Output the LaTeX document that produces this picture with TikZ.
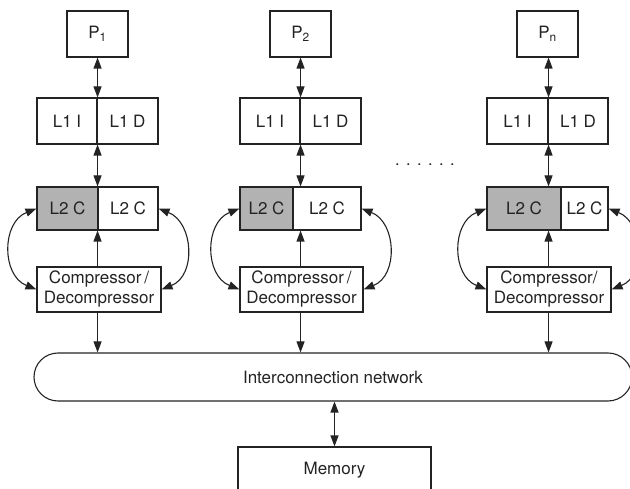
\documentclass[tikz,border=0pt]{standalone}
\usepackage{fontspec}
\setmainfont{TeX Gyre Heros}
\usetikzlibrary{arrows.meta}
\definecolor{lgray}{RGB}{178,178,178}
\definecolor{ink}{RGB}{35,35,35}
\begin{document}
\begin{tikzpicture}[x=1pt,y=-1pt,
  box/.style={draw=ink, line width=1.1pt, inner sep=0pt, minimum height=46pt,
    font=\fontsize{17}{20}\selectfont, text=ink, align=center},
  lbox/.style={box, minimum height=43pt},
  gbox/.style={lbox, fill=lgray},
  comp/.style={box, minimum height=45pt},
  net/.style={box, minimum height=48pt, minimum width=598pt, rounded corners=24pt},
  tipd/.tip={Triangle[length=11pt,width=8pt]},
  dbl/.style={draw=ink, line width=1.1pt, tipd-tipd},
  one/.style={draw=ink, line width=1.1pt, -tipd}]
\useasboundingbox (0,0) rectangle (630,489);
\clip (0,0) rectangle (630,489);

% column 1
\node[box, minimum width=61pt] (P1) at (97.5,34) {P\textsubscript{1}};
\node[box, minimum width=60pt] (L1I1) at (67,121) {L1 I};
\node[box, minimum width=61pt] (L1D1) at (127.5,121) {L1 D};
\node[gbox, minimum width=61pt] (L2G1) at (67.5,208.5) {L2 C};
\node[lbox, minimum width=60pt] (L2W1) at (128,208.5) {L2 C};
\node[comp, minimum width=124pt] (C1) at (99,289.5) {Compressor\,/\\Decompressor};

% column 2
\node[box, minimum width=61pt] (P2) at (300.5,34) {P\textsubscript{2}};
\node[box, minimum width=60pt] (L1I2) at (270,121) {L1 I};
\node[box, minimum width=61pt] (L1D2) at (330.5,121) {L1 D};
\node[gbox, minimum width=53pt] (L2G2) at (266.5,208.5) {L2 C};
\node[lbox, minimum width=68pt] (L2W2) at (327,208.5) {L2 C};
\node[comp, minimum width=123pt] (C2) at (301.5,289.5) {Compressor\,/\\Decompressor};

% column 3
\node[box, minimum width=61pt] (P3) at (547.5,34) {P\textsubscript{n}};
\node[box, minimum width=61pt] (L1I3) at (517.5,121) {L1 I};
\node[box, minimum width=60pt] (L1D3) at (578,121) {L1 D};
\node[gbox, minimum width=74pt] (L2G3) at (524,208.5) {L2 C};
\node[lbox, minimum width=47pt] (L2W3) at (584.5,208.5) {L2 C};
\node[comp, minimum width=124pt] (C3) at (549,289.5) {Compressor/\\Decompressor};

% dots
\node[font=\fontsize{16.5}{20}\selectfont, text=ink, anchor=base, inner sep=0pt] (dots) at (425,165.5)
  {.\hspace{6.4pt}.\hspace{6.4pt}.\hspace{6.4pt}.\hspace{6.4pt}.\hspace{6.4pt}.};

% network and memory
\node[net] (Net) at (333,377) {Interconnection network};
\node[box, minimum width=193pt] (Mem) at (334.5,470) {Memory};

% vertical connectors
\foreach \c in {1,2,3}{
  \draw[dbl] (P\c.south -| L1I\c.east) -- (L1I\c.north east);
  \draw[dbl] (L1I\c.south east) -- (L2G\c.north -| L1I\c.east);
  \draw[one] (C\c.north -| L1I\c.east) -- (L2G\c.south -| L1I\c.east);
  \draw[one] (C\c.south -| L1I\c.east) -- (Net.north -| L1I\c.east);
  \draw[dbl] (L2G\c.west) .. controls +(-35,14) and +(-35,-14) .. (C\c.west);
  \draw[dbl] (L2W\c.east) .. controls +(35,14) and +(35,-14) .. (C\c.east);
}
\draw[dbl] (Net.south -| Mem.north) -- (Mem.north);
\end{tikzpicture}
\end{document}
